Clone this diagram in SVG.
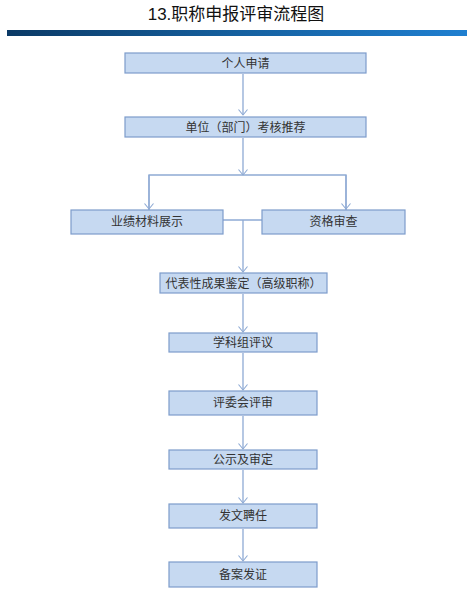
<svg xmlns="http://www.w3.org/2000/svg" width="471" height="600" viewBox="0 0 471 600">
<defs>
<linearGradient id="bar" x1="0" y1="0" x2="1" y2="0">
<stop offset="0" stop-color="#0b3a66"/>
<stop offset="0.5" stop-color="#15609f"/>
<stop offset="1" stop-color="#1f7fd0"/>
</linearGradient>
<marker id="arrd" markerWidth="12" markerHeight="12" refX="6" refY="10" orient="0" markerUnits="userSpaceOnUse" viewBox="0 0 12 12">
<path d="M1.5,4.5 L6,10 L10.5,4.5" fill="none" stroke="#8eaad4" stroke-width="1.1"/>
</marker>
</defs>
<style>
.box{fill:#c6d9f1;stroke:#7d9ccb;stroke-width:1.2}
.t{font-family:"Liberation Serif","Noto Sans CJK SC",serif;font-size:12px;fill:#333333;text-anchor:middle;dominant-baseline:central}
.c{fill:none;stroke:#8eaad4;stroke-width:1.3}
.title{font-family:"Liberation Sans","Noto Sans CJK SC",sans-serif;font-size:17px;fill:#111;text-anchor:middle}
</style>
<rect width="471" height="600" fill="#ffffff"/>
<text class="title" x="236" y="20">13.职称申报评审流程图</text>
<rect x="7" y="30" width="460" height="6" fill="url(#bar)"/>
<g id="connectors">
<path class="c" d="M243,74 V115" marker-end="url(#arrd)"/>
<path class="c" d="M243,138 V175" marker-end="url(#arrd)"/>
<path class="c" d="M149,210 V175 H346 V210"/>
<path class="c" d="M149,175 V209" marker-end="url(#arrd)"/>
<path class="c" d="M346,175 V209" marker-end="url(#arrd)"/>
<path class="c" d="M223,220 H262"/>
<path class="c" d="M243,220 V272" marker-end="url(#arrd)"/>
<path class="c" d="M243,294 V332" marker-end="url(#arrd)"/>
<path class="c" d="M243,353 V390" marker-end="url(#arrd)"/>
<path class="c" d="M243,416 V449" marker-end="url(#arrd)"/>
<path class="c" d="M243,470 V503" marker-end="url(#arrd)"/>
<path class="c" d="M243,529 V561" marker-end="url(#arrd)"/>
</g>
<g id="n1"><rect class="box" x="125" y="53" width="241" height="20"/><text class="t" x="245.5" y="63.5">个人申请</text></g>
<g id="n2"><rect class="box" x="125" y="117" width="241" height="20"/><text class="t" x="245.5" y="127.5">单位（部门）考核推荐</text></g>
<g id="n3"><rect class="box" x="71" y="210" width="152" height="24"/><text class="t" x="147" y="222">业绩材料展示</text></g>
<g id="n4"><rect class="box" x="262" y="210" width="143" height="24"/><text class="t" x="333.5" y="222">资格审查</text></g>
<g id="n5"><rect class="box" x="160" y="273" width="167" height="20"/><text class="t" x="243.5" y="283.5">代表性成果鉴定（高级职称）</text></g>
<g id="n6"><rect class="box" x="169" y="333" width="148" height="19"/><text class="t" x="243" y="343">学科组评议</text></g>
<g id="n7"><rect class="box" x="169" y="391" width="148" height="24"/><text class="t" x="243" y="403">评委会评审</text></g>
<g id="n8"><rect class="box" x="169" y="450" width="148" height="19"/><text class="t" x="243" y="460">公示及审定</text></g>
<g id="n9"><rect class="box" x="169" y="504" width="148" height="24"/><text class="t" x="243" y="516">发文聘任</text></g>
<g id="n10"><rect class="box" x="169" y="562" width="148" height="25"/><text class="t" x="243" y="574.5">备案发证</text></g>
</svg>
